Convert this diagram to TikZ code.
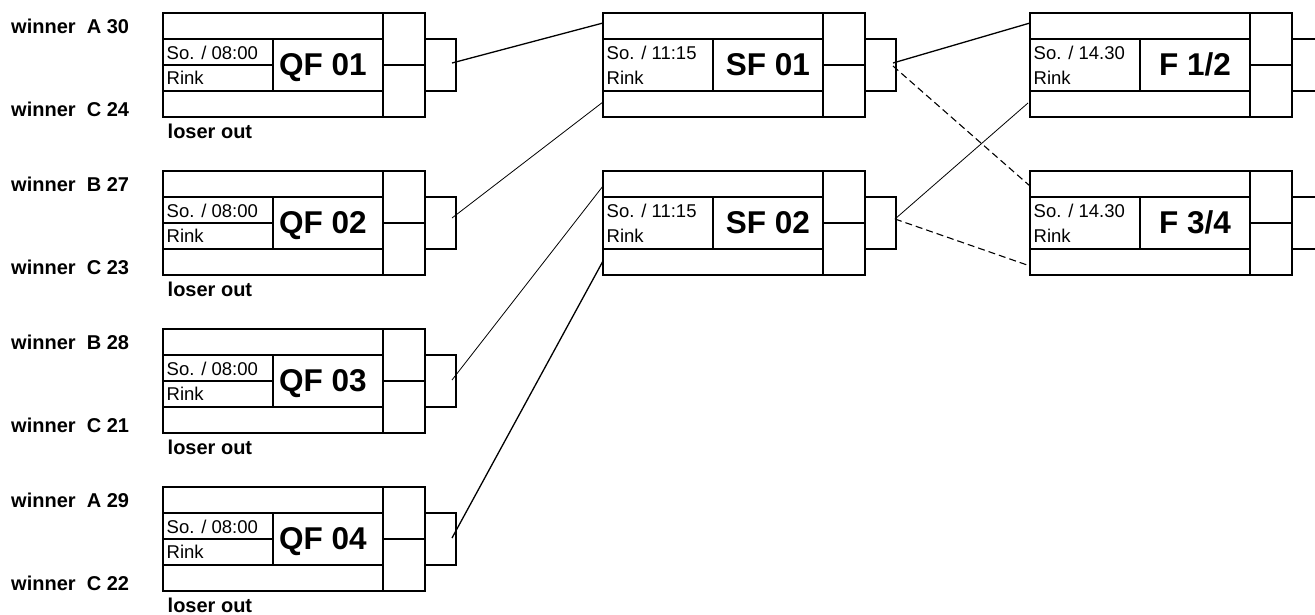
\documentclass[tikz,border=0pt]{standalone}
\usepackage{fontspec}
\setmainfont{Liberation Sans}
\tikzset{
  box/.style={line width=1.5pt},
  thickconn/.style={line width=1.3pt},
  thinconn/.style={line width=0.8pt},
  dashconn/.style={line width=1.1pt, dash pattern=on 7pt off 4pt},
  datetxt/.style={anchor=base west, inner sep=0pt, font=\fontsize{18.5}{22}\selectfont},
  titletxt/.style={anchor=base, inner sep=0pt, font=\fontsize{31.5}{36}\selectfont\bfseries},
  lbl/.style={anchor=base west, inner sep=0pt, font=\fontsize{20}{24}\selectfont\bfseries},
}
% #1 name, #2 x, #3 y, #4 date, #5 title, #6 title x, #7 type q/s/f
\newcommand\matchbox[7]{%
\begin{scope}[shift={(#2,#3)}]
  \draw[box] (0,0) rectangle (220,104);
  \draw[box] (0,26) -- (220,26) (0,78) -- (220,78) (110,26) -- (110,78);
  \draw[box] (220,0) rectangle (262,104) (220,52) -- (262,52);
  \ifx q#7 \draw[box] (0,52) -- (110,52); \fi
  \ifx f#7 \draw[box] (262,26) -- (290,26) (262,78) -- (290,78);
  \else \draw[box] (262,26) rectangle (293,78); \fi
  \node[datetxt] (#1d) at (3.5,46) {#4};
  \node[datetxt] (#1r) at (3.5,71) {Rink};
  \node[titletxt] (#1t) at (#6,62) {#5};
\end{scope}}
\begin{document}
\begin{tikzpicture}[x=1pt,y=-1pt]
\useasboundingbox (0,0) rectangle (1315,614);
% quarter finals
\matchbox{qfa}{163}{13}{So. / 08:00}{QF 01}{160}{q}
\matchbox{qfb}{163}{171}{So. / 08:00}{QF 02}{160}{q}
\matchbox{qfc}{163}{329}{So. / 08:00}{QF 03}{160}{q}
\matchbox{qfd}{163}{487}{So. / 08:00}{QF 04}{160}{q}
% semi finals
\matchbox{sfa}{603}{13}{So. / 11:15}{SF 01}{165}{s}
\matchbox{sfb}{603}{171}{So. / 11:15}{SF 02}{165}{s}
% finals
\matchbox{fa}{1030}{13}{So. / 14.30}{F 1/2}{165}{f}
\matchbox{fb}{1030}{171}{So. / 14.30}{F 3/4}{165}{f}
% labels
\node[lbl] (la1) at (11,33) {winner\ \ A 30};
\node[lbl] (la2) at (11,116) {winner\ \ C 24};
\node[lbl] (la3) at (167.5,138) {loser out};
\node[lbl] (lb1) at (11,191) {winner\ \ B 27};
\node[lbl] (lb2) at (11,274) {winner\ \ C 23};
\node[lbl] (lb3) at (167.5,296) {loser out};
\node[lbl] (lc1) at (11,349) {winner\ \ B 28};
\node[lbl] (lc2) at (11,432) {winner\ \ C 21};
\node[lbl] (lc3) at (167.5,454) {loser out};
\node[lbl] (ld1) at (11,507) {winner\ \ A 29};
\node[lbl] (ld2) at (11,590) {winner\ \ C 22};
\node[lbl] (ld3) at (167.5,612) {loser out};
% connector points
\coordinate (qfao) at (452,63);
\coordinate (qfbo) at (452,218);
\coordinate (qfco) at (452,380);
\coordinate (qfdo) at (452,538);
\coordinate (sfai) at (603,23);
\coordinate (sfaj) at (603,102);
\coordinate (sfbi) at (603,186);
\coordinate (sfbj) at (603,261);
\coordinate (sfao) at (893,63);
\coordinate (sfap) at (893,66);
\coordinate (sfbo) at (895,219);
\coordinate (fai) at (1030,23);
\coordinate (faj) at (1028,103);
\coordinate (fbi) at (1030,186);
\coordinate (fbj) at (1030,266);
% connectors
\draw[thickconn] (qfao) -- (sfai);
\draw[thinconn] (qfbo) -- (sfaj);
\draw[thinconn] (qfco) -- (sfbi);
\draw[thickconn] (qfdo) -- (sfbj);
\draw[thickconn] (sfao) -- (fai);
\draw[dashconn] (sfap) -- (fbi);
\draw[thinconn] (sfbo) -- (faj);
\draw[dashconn] (sfbo) -- (fbj);
\end{tikzpicture}
\end{document}
